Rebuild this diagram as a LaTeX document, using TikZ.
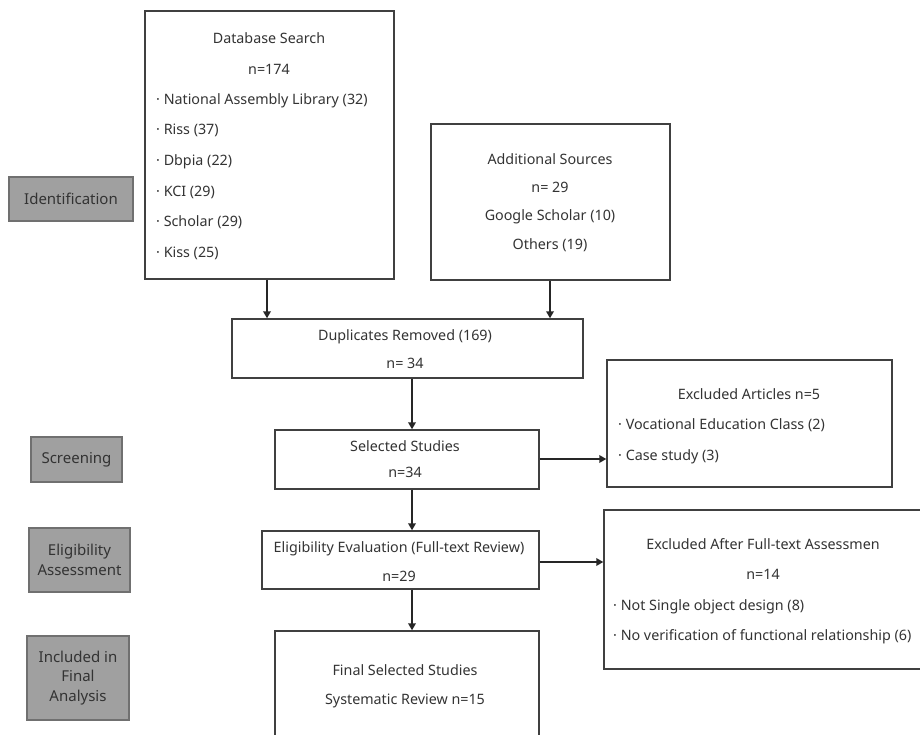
\documentclass[tikz,border=0pt]{standalone}
\usepackage{fontspec}
\setmainfont{Noto Sans}
\usetikzlibrary{arrows.meta}
\definecolor{txt}{HTML}{333333}
\definecolor{edge}{HTML}{404040}
\definecolor{gfill}{HTML}{A0A0A0}
\definecolor{gedge}{HTML}{707070}
\tikzset{
  box/.style={draw=edge, line width=1.4pt, fill=white, inner sep=0pt},
  phase/.style={draw=gedge, line width=1.3pt, fill=gfill, inner sep=0pt, align=center,
    text=txt, font=\fontsize{15}{19.5}\selectfont},
  lbl/.style={inner sep=0pt, anchor=base, text=txt, font=\fontsize{14.3}{16}\selectfont},
  lbll/.style={lbl, anchor=base west},
  arr/.style={draw=black!85, line width=2pt, -{Triangle[length=7pt,width=7.5pt]}},
}
\begin{document}
\begin{tikzpicture}[x=1pt,y=-1pt]
\useasboundingbox (0,0) rectangle (920,735);
\clip (0,0) rectangle (920,735);
\fill[white] (0,0) rectangle (920,735);
% phase labels
\node[phase, minimum width=124, minimum height=44] (ident) at (71,199) {Identification};
\node[phase, minimum width=91, minimum height=45] (screen) at (76.5,459.5) {Screening};
\node[phase, minimum width=101, minimum height=64] (eligA) at (79.5,560) {Eligibility\\Assessment};
\node[phase, minimum width=102, minimum height=84] (incl) at (78,678) {Included in\\Final\\Analysis};
% boxes
\node[box, minimum width=249, minimum height=268] (db) at (269.5,145) {};
\node[box, minimum width=239, minimum height=156] (add) at (550.5,202) {};
\node[box, minimum width=351, minimum height=59] (dup) at (407.5,348.5) {};
\node[box, minimum width=264, minimum height=59] (sel) at (407,459.5) {};
\node[box, minimum width=277, minimum height=58] (elig) at (400.5,560) {};
\node[box, minimum width=264, minimum height=114] (final) at (407,688) {};
\node[box, minimum width=285, minimum height=127] (exa) at (749.5,423.5) {};
\node[box, minimum width=321, minimum height=159] (exb) at (764.5,589.5) {};
% texts: database search
\node[lbl] (t1) at (269,44) {Database Search};
\node[lbl] (t2) at (269,75) {n=174};
\node[lbll] (t3) at (156,105) {· National Assembly Library (32)};
\node[lbll] (t4) at (156,135) {· Riss (37)};
\node[lbll] (t5) at (156,166) {· Dbpia (22)};
\node[lbll] (t6) at (156,197) {· KCI (29)};
\node[lbll] (t7) at (156,227) {· Scholar (29)};
\node[lbll] (t8) at (156,258) {· Kiss (25)};
% additional
\node[lbl] (a1) at (550,165) {Additional Sources};
\node[lbl] (a2) at (550,193) {n= 29};
\node[lbl] (a3) at (550,221) {Google Scholar (10)};
\node[lbl] (a4) at (550,249) {Others (19)};
% duplicates
\node[lbl] (d1) at (405,340) {Duplicates Removed (169)};
\node[lbl] (d2) at (405,368) {n= 34};
% selected
\node[lbl] (s1) at (405,451) {Selected Studies};
\node[lbl] (s2) at (405,477) {n=34};
% eligibility
\node[lbl] (e1) at (399,552) {Eligibility Evaluation (Full-text Review)};
\node[lbl] (e2) at (399,581) {n=29};
% final
\node[lbl] (f1) at (405,675) {Final Selected Studies};
\node[lbl] (f2) at (405,704) {Systematic Review n=15};
% excluded articles
\node[lbl] (x1) at (749,399) {Excluded Articles n=5};
\node[lbll] (x2) at (618,429) {· Vocational Education Class (2)};
\node[lbll] (x3) at (618,460) {· Case study (3)};
% excluded after
\node[lbl] (y1) at (763,549) {Excluded After Full-text Assessmen};
\node[lbl] (y2) at (763,579) {n=14};
\node[lbll] (y3) at (613,610) {· Not Single object design (8)};
\node[lbll] (y4) at (613,640) {· No verification of functional relationship (6)};
% connectors
\draw[arr] ([xshift=-2.5]db.south) -- ([xshift=-2.5]db.south |- dup.north);
\draw[arr] ([xshift=-0.5]add.south) -- ([xshift=-0.5]add.south |- dup.north);
\draw[arr] ([xshift=4.5]dup.south) -- ([xshift=4.5]dup.south |- sel.north);
\draw[arr] ([xshift=5]sel.south) -- ([xshift=5]sel.south |- elig.north);
\draw[arr] ([xshift=11.5]elig.south) -- ([xshift=11.5]elig.south |- final.north);
\draw[arr] ([yshift=0.5]sel.east) -- ([yshift=0.5]sel.east -| exa.west);
\draw[arr] ([yshift=-2]elig.east) -- ([yshift=-2]elig.east -| exb.west);
\end{tikzpicture}
\end{document}
